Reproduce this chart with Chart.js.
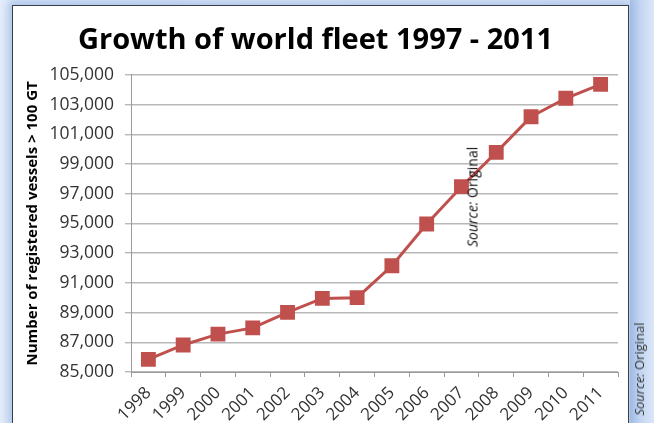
<!DOCTYPE html>
<html>
<head>
<meta charset="utf-8">
<script src="https://cdn.jsdelivr.net/npm/chart.js@4/dist/chart.umd.min.js"></script>
<style>
  html, body { margin: 0; padding: 0; }
  body {
    width: 654px; height: 423px; overflow: hidden; position: relative;
    background: linear-gradient(90deg, #e6eefa 0%, #d6e4f6 2%, #dde8f7 50%, #d9e5f6 100%);
    font-family: "Open Sans", sans-serif;
  }
  .card {
    position: absolute; left: 12px; top: 5px; width: 615px; height: 440px;
    background: #fff; border: 1.5px solid #3c3c44;
    box-shadow: 0 0 9px 3px rgba(150, 180, 225, 0.7);
  }
  .strip {
    position: absolute; left: 630px; top: 0; width: 24px; height: 423px;
    background: linear-gradient(90deg, #a9c1e9 0%, #c2d5f1 40%, #dbe7f8 100%);
  }
  #chart { position: absolute; left: 0; top: 0; }
  .src {
    position: absolute; white-space: nowrap; color: #111; font-style: normal;
    transform: translate(-50%, -50%) rotate(-90deg);
  }
  .src i { font-style: italic; }
</style>
</head>
<body>
<div class="strip"></div>
<div class="card"></div>
<canvas id="chart" width="654" height="423"></canvas>
<div class="src" style="left:472px; top:197px; font-size:14px;"><i>Source:</i> Original</div>
<div class="src" style="left:639px; top:369px; font-size:13px; color:#333;"><i>Source:</i> Original</div>

<script>
// 年份與船隊數量 (艘, >100 GT)
const years = ['1998', '1999', '2000', '2001', '2002', '2003', '2004',
               '2005', '2006', '2007', '2008', '2009', '2010', '2011'];
const vessels = [85850, 86820, 87550, 87970, 89010, 89950, 90000,
                 92150, 94960, 97470, 99780, 102180, 103420, 104360];
const yMin = 85000;
const yMax = 105000;
const yStep = 2000;

const lineRed = '#c0504d';
const gridGray = '#b8b8b8';
const axisGray = '#9a9a9a';

const canvas = document.getElementById('chart');

new Chart(canvas, {
    type: 'line',
    data: {
        labels: years,
        datasets: [{
            label: 'Registered vessels',
            data: vessels,
            borderColor: lineRed,
            borderWidth: 3,
            pointStyle: 'rect',
            pointRadius: 10.5,
            pointBackgroundColor: lineRed,
            pointBorderWidth: 0,
            tension: 0,
            fill: false,
        }]
    },
    options: {
        responsive: false,
        animation: false,
        devicePixelRatio: 1,
        layout: { padding: { left: 13, right: 36, top: 0, bottom: 0 } },
        plugins: {
            legend: { display: false },
            tooltip: { enabled: false },
            title: {
                display: true,
                text: 'Growth of world fleet 1997 - 2011',
                color: '#000',
                font: { family: 'Open Sans', size: 29, weight: 'bold', lineHeight: 1.2 },
                padding: { top: 23, bottom: 17 }
            }
        },
        scales: {
            x: {
                offset: true,
                grid: {
                    offset: true,
                    drawOnChartArea: false,
                    drawTicks: true,
                    tickLength: 5,
                    color: axisGray,
                },
                border: { display: true, color: axisGray, width: 1 },
                ticks: {
                    minRotation: 45,
                    maxRotation: 45,
                    autoSkip: false,
                    padding: 6,
                    color: '#333',
                    font: { family: 'Open Sans', size: 17 }
                },
                afterFit: function(scale) { scale.height = 51; }
            },
            y: {
                min: yMin,
                max: yMax,
                grid: {
                    color: gridGray,
                    lineWidth: 1.4,
                    tickLength: 6,
                },
                border: { display: true, color: axisGray, width: 1 },
                ticks: {
                    stepSize: yStep,
                    padding: 11,
                    color: '#333',
                    font: { family: 'Open Sans', size: 17.5 },
                    callback: function(value) {
                        return value.toLocaleString('en-US');
                    }
                },
                title: {
                    display: true,
                    text: 'Number of registered vessels > 100 GT',
                    color: '#000',
                    font: { family: 'Open Sans', size: 15, weight: 'bold', lineHeight: 1.2 },
                    padding: { top: 11, bottom: 0 }
                },
                afterFit: function(scale) { scale.width = 118; }
            }
        }
    }
});
</script>
</body>
</html>
